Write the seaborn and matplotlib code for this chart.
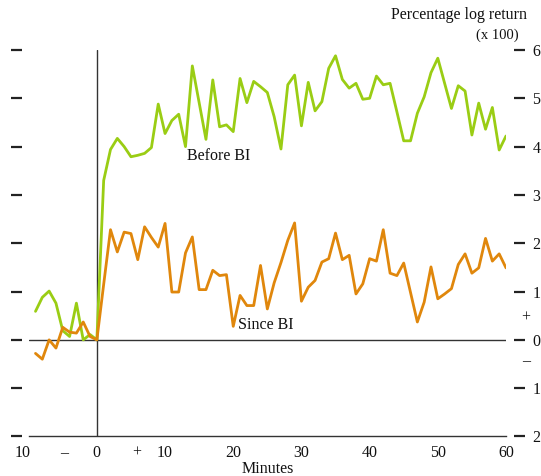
import numpy as np
import pandas as pd
import matplotlib
matplotlib.use("Agg")
import matplotlib.pyplot as plt
import matplotlib.transforms as mtransforms
import seaborn as sns

# ---- data ----
minutes = list(range(-9, 61))
before_bi = [0.59, 0.88, 1.01, 0.76, 0.19, 0.07, 0.76, 0.00, 0.11, 0.00,
             3.30, 3.94, 4.17, 4.00, 3.79, 3.82, 3.86, 3.98, 4.88, 4.27,
             4.54, 4.67, 4.00, 5.67, 4.91, 4.15, 5.38, 4.41, 4.45, 4.31,
             5.41, 4.91, 5.35, 5.24, 5.12, 4.62, 3.95, 5.28, 5.48, 4.43,
             5.33, 4.74, 4.93, 5.62, 5.88, 5.39, 5.21, 5.31, 4.98, 5.00,
             5.46, 5.28, 5.31, 4.72, 4.12, 4.12, 4.69, 5.03, 5.53, 5.83,
             5.31, 4.79, 5.26, 5.15, 4.24, 4.90, 4.36, 4.81, 3.93, 4.22]
since_bi = [-0.28, -0.40, 0.00, -0.17, 0.26, 0.16, 0.14, 0.37, 0.07, 0.00,
            1.15, 2.28, 1.82, 2.23, 2.20, 1.66, 2.34, 2.12, 1.92, 2.41,
            0.99, 0.99, 1.80, 2.13, 1.04, 1.04, 1.44, 1.33, 1.35, 0.28,
            0.92, 0.71, 0.71, 1.54, 0.64, 1.18, 1.60, 2.06, 2.42, 0.80,
            1.09, 1.23, 1.61, 1.68, 2.21, 1.66, 1.75, 0.95, 1.16, 1.68,
            1.63, 2.28, 1.38, 1.33, 1.59, 0.98, 0.37, 0.78, 1.51, 0.85,
            0.95, 1.06, 1.56, 1.78, 1.38, 1.49, 2.10, 1.63, 1.78, 1.49]
series_names = ["Before BI", "Since BI"]
series_colors = ["#9acd14", "#e0870c"]

x_ticks = [-10, 0, 10, 20, 30, 40, 50, 60]
x_tick_labels = ["", "0", "10", "20", "30", "40", "50", "60"]
x_extra_pos = [-4.8, 5.8]
x_extra_labels = ["\u2013", "+"]
x_left_label = "10"
y_ticks = [-2, -1, 0, 1, 2, 3, 4, 5, 6]
y_tick_labels = ["2", "1", "0", "1", "2", "3", "4", "5", "6"]

df = pd.DataFrame({
    "Minutes": minutes * 2,
    "value": before_bi + since_bi,
    "series": [series_names[0]] * len(minutes) + [series_names[1]] * len(minutes),
})

sns.set_style("white")
plt.rcParams["font.family"] = ["Liberation Serif", "DejaVu Serif"]
FS = 11.5
TC = "#111111"

fig = plt.figure(figsize=(5.41, 4.76), dpi=100)
ax = fig.add_axes([0.053, 0.083, 0.8823, 0.812])

sns.lineplot(data=df, x="Minutes", y="value", hue="series",
             palette=dict(zip(series_names, series_colors)),
             linewidth=2.0, legend=False, ax=ax, zorder=3)

dark = "#333333"
ax.axhline(0, color=dark, lw=1.0, zorder=2)
ax.axvline(0, color=dark, lw=1.0, zorder=2)

for s in ["top", "left", "right"]:
    ax.spines[s].set_visible(False)
ax.spines["left"].set_position(("outward", 5))
ax.spines["right"].set_position(("outward", 5.8))
ax.spines["bottom"].set_color(dark)
ax.spines["bottom"].set_linewidth(1.0)

# x axis
ax.set_xticks(x_ticks)
ax.set_xticklabels(x_tick_labels)
ax.set_xticks(x_extra_pos, minor=True)
ax.set_xticklabels(x_extra_labels, minor=True)
ax.tick_params(axis="x", which="major", direction="in", length=4.5, width=1.0,
               color=dark, pad=6, labelsize=FS, labelcolor=TC)
ax.tick_params(axis="x", which="minor", length=0, pad=6, labelsize=FS,
               labelcolor=TC)
ax.set_xlabel("Minutes", fontsize=FS, labelpad=0, color=TC)
ax.set_ylabel("")

# y axis: dash marks both sides, labels right
ax.set_yticks(y_ticks)
ax.set_yticklabels(y_tick_labels)
ax.tick_params(axis="y", which="major", left=True, right=True,
               labelleft=False, labelright=True, direction="out",
               length=8.2, width=1.6, color="#222222", pad=5,
               labelsize=FS, labelcolor=TC)

# limits after ticks (ticks outside the range would widen the view)
ax.set_xlim(-10, 60)
ax.set_ylim(-2, 6)

# the left-most "10" sits a little left of its tick
ax.annotate(x_left_label, xy=(x_ticks[0], 0), xycoords=("data", "axes fraction"),
            xytext=(-4.5, -6), textcoords="offset points", ha="center",
            va="top", fontsize=FS, color=TC, annotation_clip=False)

trans = mtransforms.blended_transform_factory(ax.transAxes, ax.transData)
ax.text(1.042, 0.46, "+", transform=trans, ha="center", va="center",
        fontsize=FS, color=TC)
ax.text(1.042, -0.43, "\u2013", transform=trans, ha="center", va="center",
        fontsize=FS, color=TC)

ax.text(13.2, 3.80, series_names[0], ha="left", va="center", fontsize=FS,
        color=TC, zorder=4)
ax.text(20.7, 0.31, series_names[1], ha="left", va="center", fontsize=FS,
        color=TC, zorder=4)

fig.text(0.975, 0.968, "Percentage log return", ha="right", va="center",
         fontsize=FS, color=TC)
fig.text(0.958, 0.926, "(x 100)", ha="right", va="center",
         fontsize=10.5, color=TC)

fig.savefig("out.png", dpi=100)
